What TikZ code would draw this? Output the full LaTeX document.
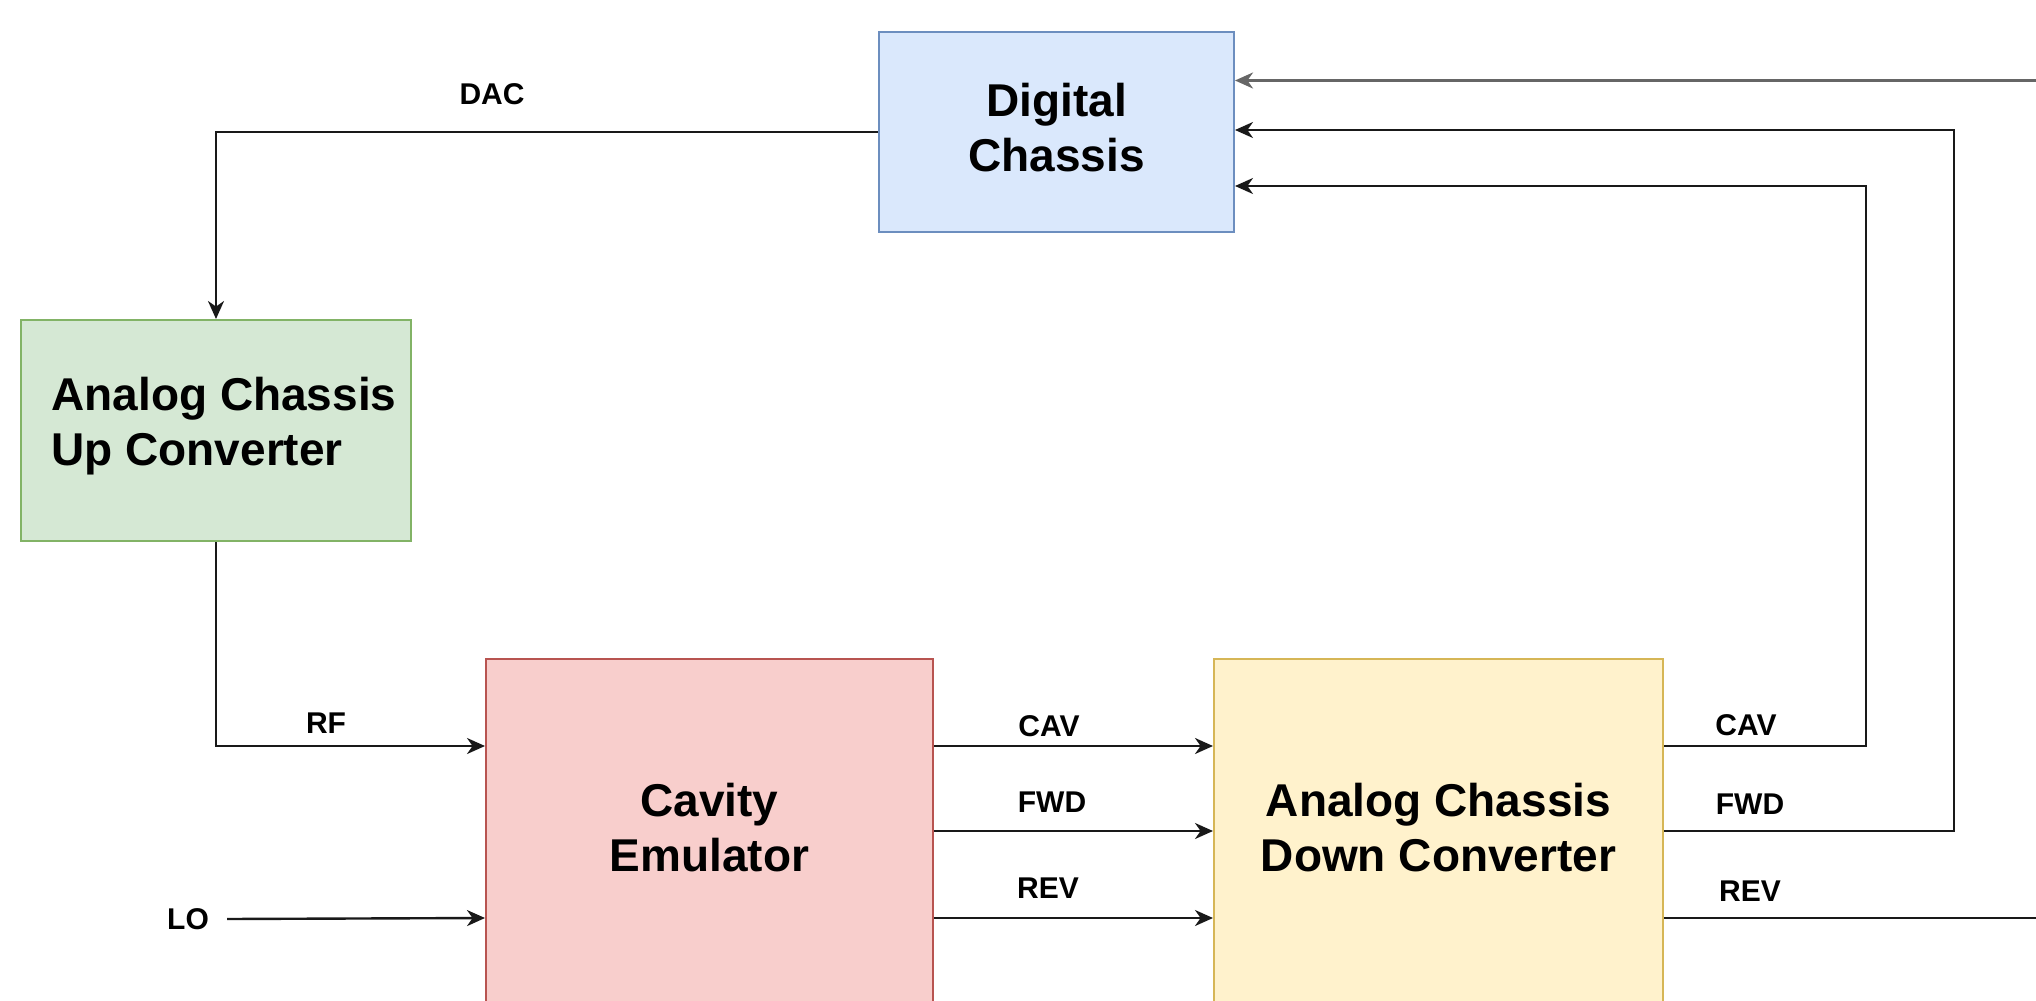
\documentclass[tikz,border=0pt]{standalone}
\usepackage{fontspec}
\setmainfont{Liberation Sans}
\usetikzlibrary{arrows.meta,calc}
\definecolor{dcfill}{HTML}{DAE8FC}\definecolor{dcline}{HTML}{6C8EBF}
\definecolor{upfill}{HTML}{D5E8D4}\definecolor{upline}{HTML}{82B366}
\definecolor{cvfill}{HTML}{F8CECC}\definecolor{cvline}{HTML}{B85450}
\definecolor{dnfill}{HTML}{FFF2CC}\definecolor{dnline}{HTML}{D6B656}
\begin{document}
\begin{tikzpicture}[x=0.5pt,y=-0.5pt,
 box/.style={draw, line width=1pt, rectangle, inner sep=0pt, font=\fontsize{23}{27.5}\selectfont\bfseries, align=center, text depth=5pt},
 lbl/.style={inner sep=0pt, font=\fontsize{15}{18}\selectfont\bfseries},
 wire/.style={line width=1.2pt, draw=black!90},
 arr/.style={wire, -{Stealth[length=9pt,width=8pt,inset=2.8pt]}}]

\useasboundingbox (0,0) rectangle (2036,1001);
\clip (0,0) rectangle (2036,1001);

% blocks
\node[box, fill=dcfill, draw=dcline, minimum width=177.5pt, minimum height=100pt] (dc) at (1056.5,132) {Digital\\Chassis};
\node[box, fill=upfill, draw=upline, minimum width=195pt, minimum height=110.5pt, align=left, text depth=9.4pt] (up) at (216,430.5) {\hspace*{8pt}Analog Chassis\\\hspace*{8pt}Up Converter};
\node[box, fill=cvfill, draw=cvline, minimum width=223.5pt, minimum height=173pt] (cav) at (709.5,832) {Cavity\\Emulator};
\node[box, fill=dnfill, draw=dnline, minimum width=224.5pt, minimum height=173pt] (adc) at (1438.5,832) {Analog Chassis\\Down Converter};

% ports
\coordinate (cavI1) at ($(cav.north west)+(0,88)$);
\coordinate (cavI2) at ($(cav.north west)+(0,260)$);
\coordinate (cavO1) at ($(cav.north east)+(0,88)$);
\coordinate (cavO2) at ($(cav.north east)+(0,173)$);
\coordinate (cavO3) at ($(cav.north east)+(0,260)$);
\coordinate (adcI1) at ($(adc.north west)+(0,88)$);
\coordinate (adcI2) at ($(adc.north west)+(0,173)$);
\coordinate (adcI3) at ($(adc.north west)+(0,260)$);
\coordinate (adcO1) at ($(adc.north east)+(0,88)$);
\coordinate (adcO2) at ($(adc.north east)+(0,173)$);
\coordinate (adcO3) at ($(adc.north east)+(0,260)$);
\coordinate (dcE1) at ($(dc.north east)+(0,49.5)$);
\coordinate (dcE2) at ($(dc.north east)+(0,99)$);
\coordinate (dcE3) at ($(dc.north east)+(0,155)$);
\coordinate (busA) at (1866,0);
\coordinate (busB) at (1954,0);
\coordinate (rim) at (2050,0);

% labels
\node[lbl] (lDAC) at (492,94) {DAC};
\node[lbl] (lRF) at (326,723.5) {RF};
\node[lbl, inner xsep=9pt] (lo) at (188,919) {LO};
\node[lbl] (lCAV1) at (1049,726) {CAV};
\node[lbl] (lFWD1) at (1052,802) {FWD};
\node[lbl] (lREV1) at (1048,888) {REV};
\node[lbl] (lCAV2) at (1746,725) {CAV};
\node[lbl] (lFWD2) at (1750,804) {FWD};
\node[lbl] (lREV2) at (1750,891) {REV};

% connectors
\draw[arr] (dc.west) -| (up.north);
\draw[arr] (up.south) |- (cavI1);
\draw[arr] (lo.east) -- (cavI2);
\draw[arr] (cavO1) -- (adcI1);
\draw[arr] (cavO2) -- (adcI2);
\draw[arr] (cavO3) -- (adcI3);
\draw[arr] (adcO1) -- (adcO1 -| busA) |- (dcE3);
\draw[arr] (adcO2) -- (adcO2 -| busB) |- (dcE2);
\draw[wire] (adcO3) -- (adcO3 -| rim);
\draw[arr, draw=black!60, line width=1.4pt] (dcE1 -| rim) -- (dcE1);
\end{tikzpicture}
\end{document}
